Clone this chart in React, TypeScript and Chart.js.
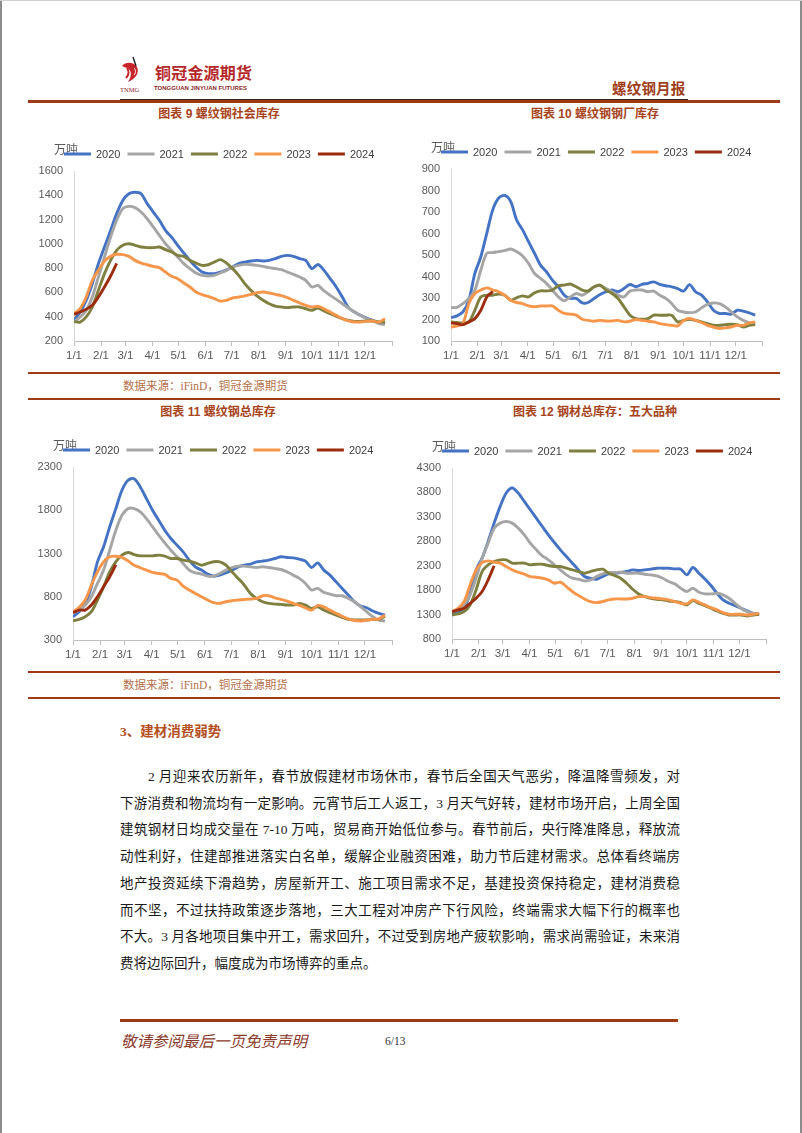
import React, { useEffect, useRef } from 'react';
import { Chart, registerables } from 'chart.js';

Chart.register(...registerables);

// ---------- shared axis / legend data ----------
const YEARS = ['2020', '2021', '2022', '2023', '2024'];
const YEAR_COLORS = ['#4472C4', '#A5A5A5', '#7F7F3F', '#F5964A', '#9C2C0E'];
const MONTH_STARTS = [0, 31, 59, 90, 120, 151, 181, 212, 243, 273, 304, 334, 365];
const MONTH_LABELS = ['1/1', '2/1', '3/1', '4/1', '5/1', '6/1', '7/1', '8/1', '9/1', '10/1', '11/1', '12/1', ''];
const WEEK_DAYS = 7;
const UNIT = '万吨';

// ---------- 图表 9 螺纹钢社会库存 (weekly) ----------
const social2020 = [370, 439, 535, 672, 837, 974, 1111, 1249, 1358, 1413, 1425, 1413, 1331, 1262, 1194, 1111, 1056, 988, 925, 864, 809, 768, 755, 755, 768, 787, 809, 837, 850, 859, 864, 859, 864, 878, 897, 905, 897, 878, 864, 796, 830, 782, 713, 645, 562, 475, 439, 411, 389, 370, 351, 343];
const social2021 = [356, 398, 452, 562, 727, 892, 1056, 1194, 1290, 1309, 1298, 1262, 1207, 1139, 1070, 1001, 947, 892, 837, 796, 760, 741, 735, 741, 760, 782, 809, 823, 831, 828, 823, 815, 804, 796, 787, 768, 749, 727, 700, 645, 658, 612, 576, 543, 507, 472, 439, 411, 384, 365, 343, 335];
const social2022 = [360, 356, 398, 480, 617, 755, 864, 947, 988, 1001, 988, 974, 969, 969, 974, 952, 933, 905, 897, 864, 842, 823, 828, 850, 870, 842, 796, 741, 672, 617, 571, 535, 507, 488, 480, 475, 480, 480, 466, 453, 472, 447, 425, 403, 384, 370, 362, 362, 365, 365, 356, 356];
const social2023 = [425, 466, 562, 700, 782, 859, 897, 914, 911, 897, 864, 842, 828, 815, 804, 768, 733, 713, 678, 645, 604, 582, 568, 549, 529, 535, 554, 562, 571, 584, 598, 604, 595, 584, 573, 557, 535, 513, 494, 480, 486, 466, 439, 411, 384, 365, 356, 356, 362, 365, 356, 384];
const social2024 = [420, 439, 461, 494, 562, 645, 735, 840];

// ---------- 图表 10 螺纹钢钢厂库存 ----------
const mill2020 = [209, 217, 235, 290, 414, 492, 601, 710, 765, 777, 749, 663, 617, 562, 508, 453, 422, 383, 352, 313, 298, 298, 277, 279, 298, 316, 329, 337, 329, 344, 363, 352, 363, 368, 375, 363, 357, 352, 344, 332, 362, 329, 313, 282, 243, 228, 228, 225, 243, 239, 231, 220];
const mill2021 = [256, 256, 274, 298, 337, 430, 508, 511, 516, 520, 528, 516, 495, 461, 414, 391, 368, 337, 305, 287, 305, 321, 313, 329, 352, 357, 344, 329, 313, 305, 332, 337, 337, 329, 332, 313, 298, 274, 243, 235, 232, 235, 254, 271, 277, 274, 259, 235, 212, 196, 184, 181];
const mill2022 = [189, 186, 184, 189, 243, 305, 313, 313, 318, 313, 290, 301, 310, 305, 324, 333, 333, 337, 357, 360, 365, 352, 337, 333, 352, 360, 337, 321, 298, 259, 220, 204, 201, 204, 220, 220, 220, 220, 189, 196, 201, 196, 189, 181, 173, 173, 176, 178, 176, 165, 173, 176];
const mill2023 = [165, 170, 181, 274, 321, 337, 347, 337, 329, 313, 290, 279, 274, 263, 259, 263, 263, 263, 243, 228, 225, 220, 201, 196, 192, 196, 193, 193, 196, 189, 192, 200, 196, 192, 189, 181, 176, 173, 170, 195, 205, 196, 186, 173, 165, 158, 161, 165, 173, 173, 184, 189];
const mill2024 = [184, 181, 176, 189, 204, 243, 305, 330];

// ---------- 图表 11 螺纹钢总库存 ----------
const total2020 = [569, 627, 723, 915, 1204, 1377, 1608, 1819, 2031, 2146, 2165, 2069, 1935, 1800, 1685, 1569, 1473, 1396, 1319, 1223, 1146, 1108, 1062, 1038, 1050, 1077, 1108, 1146, 1165, 1177, 1204, 1212, 1223, 1242, 1262, 1254, 1250, 1235, 1212, 1138, 1192, 1108, 1050, 973, 896, 819, 742, 692, 673, 635, 608, 588];
const total2021 = [615, 646, 704, 800, 954, 1108, 1338, 1569, 1742, 1819, 1819, 1781, 1704, 1608, 1512, 1423, 1338, 1262, 1185, 1108, 1077, 1062, 1038, 1038, 1069, 1108, 1138, 1154, 1154, 1146, 1138, 1146, 1138, 1127, 1115, 1088, 1050, 1012, 954, 877, 896, 850, 831, 812, 812, 781, 742, 685, 627, 569, 531, 519];
const total2022 = [523, 538, 569, 627, 762, 915, 1088, 1204, 1281, 1312, 1288, 1273, 1273, 1273, 1281, 1269, 1242, 1242, 1223, 1212, 1192, 1165, 1185, 1204, 1204, 1165, 1088, 1012, 935, 838, 781, 742, 723, 715, 712, 704, 704, 723, 704, 665, 685, 646, 615, 588, 562, 538, 531, 531, 531, 538, 538, 577];
const total2023 = [627, 677, 762, 935, 1088, 1204, 1262, 1269, 1254, 1215, 1165, 1135, 1108, 1081, 1069, 1058, 1012, 992, 923, 877, 838, 800, 762, 731, 723, 742, 754, 762, 769, 773, 781, 812, 812, 788, 769, 750, 723, 700, 672, 645, 700, 682, 645, 610, 575, 545, 525, 520, 530, 538, 545, 590];
const total2024 = [615, 646, 646, 704, 800, 915, 1031, 1170];

// ---------- 图表 12 钢材总库存：五大品种 ----------
const five2020 = [1292, 1360, 1429, 1736, 2215, 2454, 2796, 3172, 3514, 3787, 3890, 3787, 3616, 3445, 3274, 3103, 2933, 2775, 2625, 2488, 2352, 2215, 2078, 2044, 2023, 2078, 2133, 2147, 2160, 2181, 2215, 2201, 2215, 2229, 2249, 2249, 2249, 2235, 2229, 2112, 2263, 2147, 2030, 1894, 1736, 1600, 1531, 1484, 1429, 1374, 1326, 1306];
const five2021 = [1360, 1395, 1497, 1702, 2044, 2454, 2762, 3069, 3172, 3206, 3172, 3069, 2933, 2762, 2625, 2502, 2420, 2317, 2215, 2112, 2044, 2023, 1989, 2010, 2078, 2133, 2160, 2160, 2167, 2147, 2147, 2147, 2126, 2112, 2092, 2044, 1976, 1928, 1839, 1771, 1839, 1757, 1723, 1723, 1736, 1702, 1634, 1531, 1429, 1360, 1326, 1292];
const five2022 = [1292, 1313, 1360, 1497, 1805, 2181, 2317, 2386, 2420, 2420, 2352, 2352, 2352, 2317, 2331, 2331, 2304, 2283, 2283, 2249, 2215, 2181, 2147, 2181, 2215, 2229, 2147, 2099, 2044, 1941, 1818, 1723, 1668, 1634, 1613, 1600, 1579, 1566, 1545, 1497, 1586, 1531, 1484, 1429, 1374, 1326, 1292, 1292, 1292, 1272, 1292, 1306];
const five2023 = [1360, 1429, 1566, 1907, 2215, 2365, 2400, 2372, 2352, 2283, 2215, 2167, 2126, 2078, 2065, 2044, 2010, 1941, 1962, 1873, 1771, 1689, 1620, 1566, 1545, 1566, 1600, 1620, 1620, 1620, 1634, 1668, 1668, 1648, 1634, 1620, 1600, 1566, 1531, 1518, 1600, 1552, 1497, 1443, 1395, 1340, 1306, 1306, 1306, 1292, 1306, 1326];
const five2024 = [1360, 1395, 1429, 1531, 1634, 1771, 2010, 2300];

// ---------- page text ----------
const PARAGRAPH_LINES = [
  '2 月迎来农历新年，春节放假建材市场休市，春节后全国天气恶劣，降温降雪频发，对',
  '下游消费和物流均有一定影响。元宵节后工人返工，3 月天气好转，建材市场开启，上周全国',
  '建筑钢材日均成交量在 7-10 万吨，贸易商开始低位参与。春节前后，央行降准降息，释放流',
  '动性利好，住建部推进落实白名单，缓解企业融资困难，助力节后建材需求。总体看终端房',
  '地产投资延续下滑趋势，房屋新开工、施工项目需求不足，基建投资保持稳定，建材消费稳',
  '而不坚，不过扶持政策逐步落地，三大工程对冲房产下行风险，终端需求大幅下行的概率也',
  '不大。3 月各地项目集中开工，需求回升，不过受到房地产疲软影响，需求尚需验证，未来消',
  '费将边际回升，幅度成为市场博弈的重点。',
];

const FONT = '"Liberation Sans", "Noto Sans CJK SC", sans-serif';
const BROWN = '#9E3A14';
const TITLE_BROWN = '#A8441A';
const TEXT_GRAY = '#595959';

type Geo = { left: number; top: number; width: number; height: number; yW: number; padTop: number; padR: number };

function InvChart({ series, yMin, yMax, yStep, geo }: { series: number[][]; yMin: number; yMax: number; yStep: number; geo: Geo }) {
  const ref = useRef<HTMLCanvasElement | null>(null);
  useEffect(() => {
    if (!ref.current) return;
    const legendPlugin = {
      id: 'yearLegend',
      afterDraw(chart: any) {
        const ctx = chart.ctx;
        const area = chart.chartArea;
        ctx.save();
        // unit label (drawn first so legend line sits over it)
        ctx.font = `12px ${FONT}`;
        ctx.fillStyle = TEXT_GRAY;
        ctx.textAlign = 'left';
        ctx.textBaseline = 'middle';
        ctx.fillText(UNIT, area.left - 20, area.top - 20);
        // legend items
        const cy = area.top - 17;
        let x = area.left - 10;
        ctx.font = `11px ${FONT}`;
        chart.data.datasets.forEach((ds: any) => {
          ctx.fillStyle = ds.borderColor;
          ctx.fillRect(x, cy - 1.5, 27, 3);
          x += 32;
          ctx.fillStyle = '#404040';
          ctx.fillText(ds.label, x, cy + 0.5);
          x += ctx.measureText(ds.label).width + 7;
        });
        ctx.restore();
      },
    };
    const chart = new Chart(ref.current, {
      type: 'line',
      data: {
        datasets: series.map((vals, k) => ({
          label: YEARS[k],
          data: vals.map((v, i) => ({ x: i * WEEK_DAYS, y: v })),
          borderColor: YEAR_COLORS[k],
          backgroundColor: YEAR_COLORS[k],
          borderWidth: 2.9,
          pointRadius: 0,
          tension: 0.3,
          fill: false,
          order: 5 - k,
        })),
      },
      options: {
        animation: false,
        responsive: false,
        maintainAspectRatio: false,
        layout: { padding: { left: 2, right: geo.padR, top: geo.padTop, bottom: 0 } },
        plugins: {
          tooltip: { enabled: false },
          legend: { display: false },
        },
        scales: {
          x: {
            type: 'linear',
            min: 0,
            max: 365,
            afterBuildTicks: (scale: any) => {
              scale.ticks = MONTH_STARTS.map((v) => ({ value: v }));
            },
            afterFit: (scale: any) => {
              scale.height = 24;
            },
            ticks: {
              autoSkip: false,
              maxRotation: 0,
              minRotation: 0,
              padding: 3,
              color: TEXT_GRAY,
              font: { size: 11.5, family: FONT },
              callback: (v: any) => {
                const k = MONTH_STARTS.indexOf(Number(v));
                return k >= 0 ? MONTH_LABELS[k] : '';
              },
            },
            grid: { drawOnChartArea: false, drawTicks: true, tickLength: 5, color: '#BFBFBF' },
            border: { color: '#BFBFBF' },
          },
          y: {
            min: yMin,
            max: yMax,
            afterFit: (scale: any) => {
              scale.width = geo.yW;
            },
            ticks: {
              stepSize: yStep,
              padding: 11,
              color: TEXT_GRAY,
              font: { size: 11, family: FONT },
              callback: (v: any) => String(v),
            },
            grid: { drawOnChartArea: false, drawTicks: false },
            border: { color: '#D9D9D9' },
          },
        },
      } as any,
      plugins: [legendPlugin],
    });
    return () => chart.destroy();
  }, []);
  return (
    <canvas
      ref={ref}
      width={geo.width}
      height={geo.height}
      style={{ position: 'absolute', left: geo.left, top: geo.top, width: geo.width, height: geo.height }}
    />
  );
}

const abs = (s: React.CSSProperties): React.CSSProperties => ({ position: 'absolute', ...s });

function Logo() {
  return (
    <svg width={26} height={30} viewBox="0 0 26 30" style={abs({ left: 119, top: 55 })}>
      <path d="M3 11 C7 6, 15 7, 18 12 C21 18, 16 24, 9 27 C13 21, 13 15, 8 13 C6 12, 4 12, 3 11 Z" fill="#C8252A" />
      <path d="M8 13 C10 16, 10 20, 7 23" stroke="#C8252A" strokeWidth={2} fill="none" />
      <path d="M14 2 L17 11" stroke="#222" strokeWidth={1.4} />
      <path d="M15 13 C17 15, 17 18, 15 20" stroke="#fff" strokeWidth={1} fill="none" />
    </svg>
  );
}

export default function App() {
  useEffect(() => {
    document.body.style.margin = '0';
  }, []);
  const cjk = '"Noto Sans CJK SC", sans-serif';
  const serifMix = '"Liberation Serif", "Noto Sans CJK SC", serif';
  const titleStyle = (left: number, top: number): React.CSSProperties =>
    abs({ left, top, width: 360, textAlign: 'center', fontFamily: FONT, fontWeight: 700, fontSize: 12, color: TITLE_BROWN, lineHeight: '17px' });
  return (
    <div style={{ position: 'absolute', left: 0, top: 0, width: 802, height: 1133, background: '#fff', overflow: 'hidden' }}>
      {/* page edges */}
      <div style={abs({ left: 0, top: 0, width: 2, height: 1133, background: '#8C8C8C' })} />
      <div style={abs({ left: 800, top: 0, width: 2, height: 1133, background: '#8C8C8C' })} />
      <div style={abs({ left: 0, top: 0, width: 802, height: 1, background: '#D0D0D0' })} />

      {/* header */}
      <Logo />
      <div style={abs({ left: 120, top: 86, fontFamily: serifMix, fontSize: 6.5, color: '#8B1A1A', lineHeight: '8px' })}>TNMG</div>
      <div style={abs({ left: 155, top: 62, fontFamily: cjk, fontWeight: 700, fontSize: 16, color: '#B5282A', letterSpacing: 0.2, lineHeight: '20px' })}>铜冠金源期货</div>
      <div style={abs({ left: 154, top: 84, fontFamily: FONT, fontWeight: 700, fontSize: 6, color: '#8B1F1F', lineHeight: '8px', whiteSpace: 'nowrap' })}>TONGGUAN JINYUAN FUTURES</div>
      <div style={abs({ left: 612, top: 79, fontFamily: cjk, fontWeight: 700, fontSize: 14.5, color: '#A0401A', lineHeight: '18px', letterSpacing: 0.2 })}>螺纹钢月报</div>
      <div style={abs({ left: 120, top: 99, width: 568, height: 1, background: '#3A2418' })} />
      <div style={abs({ left: 28, top: 100, width: 752, height: 3, background: BROWN })} />

      {/* row 1 titles */}
      <div style={titleStyle(39, 106)}>图表 9 螺纹钢社会库存</div>
      <div style={titleStyle(415, 106)}>图表 10 螺纹钢钢厂库存</div>

      <InvChart
        series={[social2020, social2021, social2022, social2023, social2024]}
        yMin={200}
        yMax={1600}
        yStep={200}
        geo={{ left: 34, top: 141, width: 366, height: 224, yW: 38, padTop: 30, padR: 8 }}
      />
      <InvChart
        series={[mill2020, mill2021, mill2022, mill2023, mill2024]}
        yMin={100}
        yMax={900}
        yStep={100}
        geo={{ left: 413, top: 139, width: 359, height: 226, yW: 36, padTop: 30, padR: 10 }}
      />

      {/* row 1 source */}
      <div style={abs({ left: 28, top: 372, width: 752, height: 2, background: BROWN })} />
      <div style={abs({ left: 123, top: 378, fontFamily: serifMix, fontSize: 11.5, color: '#B5704A', lineHeight: '16px', whiteSpace: 'nowrap' })}>数据来源：iFinD，铜冠金源期货</div>
      <div style={abs({ left: 28, top: 398, width: 752, height: 2, background: BROWN })} />

      {/* row 2 titles */}
      <div style={titleStyle(38, 404)}>图表 11 螺纹钢总库存</div>
      <div style={titleStyle(415, 404)}>图表 12 钢材总库存：五大品种</div>

      <InvChart
        series={[total2020, total2021, total2022, total2023, total2024]}
        yMin={300}
        yMax={2300}
        yStep={500}
        geo={{ left: 34, top: 437, width: 366, height: 227, yW: 37, padTop: 30, padR: 8 }}
      />
      <InvChart
        series={[five2020, five2021, five2022, five2023, five2024]}
        yMin={800}
        yMax={4300}
        yStep={500}
        geo={{ left: 412, top: 438, width: 362, height: 225, yW: 38, padTop: 30, padR: 8 }}
      />

      {/* row 2 source */}
      <div style={abs({ left: 28, top: 671, width: 752, height: 2, background: BROWN })} />
      <div style={abs({ left: 123, top: 677, fontFamily: serifMix, fontSize: 11.5, color: '#B5704A', lineHeight: '16px', whiteSpace: 'nowrap' })}>数据来源：iFinD，铜冠金源期货</div>
      <div style={abs({ left: 28, top: 697, width: 752, height: 2, background: BROWN })} />

      {/* section */}
      <div style={abs({ left: 120, top: 723, fontFamily: serifMix, fontWeight: 700, fontSize: 13.5, color: '#B5501E', lineHeight: '18px', whiteSpace: 'nowrap' })}>3、建材消费弱势</div>
      {PARAGRAPH_LINES.map((line, i) => {
        const first = i === 0;
        const last = i === PARAGRAPH_LINES.length - 1;
        return (
          <div
            key={i}
            style={abs({
              left: first ? 148 : 120,
              top: 767 + i * 26.7,
              width: first ? 532 : 560,
              fontFamily: serifMix,
              fontSize: 13.5,
              color: '#1A1A1A',
              lineHeight: '20px',
              whiteSpace: 'nowrap',
              textAlign: last ? 'left' : 'justify',
              textAlignLast: last ? 'left' : 'justify',
            } as React.CSSProperties)}
          >
            {line}
          </div>
        );
      })}

      {/* footer */}
      <div style={abs({ left: 120, top: 1019, width: 558, height: 3, background: BROWN })} />
      <div style={abs({ left: 121, top: 1030, fontFamily: cjk, fontStyle: 'italic', fontSize: 15.5, color: '#8B3A2A', lineHeight: '20px', whiteSpace: 'nowrap' })}>敬请参阅最后一页免责声明</div>
      <div style={abs({ left: 385, top: 1033, fontFamily: serifMix, fontSize: 11.5, color: '#333', lineHeight: '16px' })}>6/13</div>
    </div>
  );
}
